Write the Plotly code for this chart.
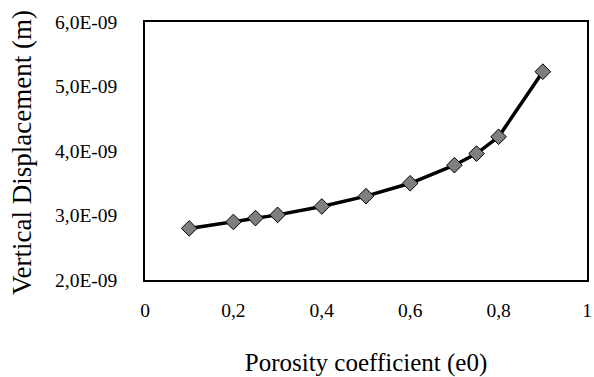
import plotly.graph_objects as go

porosity = [0.1, 0.2, 0.25, 0.3, 0.4, 0.5, 0.6, 0.7, 0.75, 0.8, 0.9]
displacement = [2.80e-9, 2.90e-9, 2.96e-9, 3.01e-9, 3.14e-9, 3.30e-9, 3.50e-9,
                3.78e-9, 3.96e-9, 4.22e-9, 5.23e-9]

x_ticks = [0, 0.2, 0.4, 0.6, 0.8, 1]
x_tick_labels = ["0", "0,2", "0,4", "0,6", "0,8", "1"]
y_ticks = [2e-9, 3e-9, 4e-9, 5e-9, 6e-9]
y_tick_labels = ["2,0E-09", "3,0E-09", "4,0E-09", "5,0E-09", "6,0E-09"]

font_family = "Liberation Serif, Times New Roman, serif"

fig = go.Figure()
fig.add_trace(go.Scatter(
    x=porosity, y=displacement, mode="lines+markers",
    line=dict(color="black", width=3.5),
    marker=dict(symbol="diamond", size=12, color="#7f7f7f",
                line=dict(color="black", width=1)),
    showlegend=False,
))

fig.update_layout(
    width=594, height=377,
    margin=dict(l=145, r=7, t=22, b=97),
    plot_bgcolor="white", paper_bgcolor="white",
    font=dict(family=font_family, size=19.5, color="black"),
    xaxis=dict(
        range=[0, 1], tickvals=x_ticks, ticktext=x_tick_labels,
        showgrid=False, zeroline=False, showline=True, linecolor="black",
        linewidth=1.5, mirror=True, ticks="", ticklabelstandoff=12,
        automargin=False,
        title=dict(text="Porosity coefficient (e0)", font=dict(size=25), standoff=41),
    ),
    yaxis=dict(
        range=[2e-9, 6e-9], tickvals=y_ticks, ticktext=y_tick_labels,
        showgrid=False, zeroline=False, showline=True, linecolor="black",
        linewidth=1.5, mirror=True, ticks="", ticklabelstandoff=22,
        automargin=False,
    ),
    annotations=[dict(
        text="Vertical Displacement (m)", textangle=-90,
        xref="paper", yref="paper", x=0, y=0.5,
        xanchor="center", yanchor="middle", xshift=-123, yshift=-2,
        showarrow=False, font=dict(size=27),
    )],
)

fig.write_html("out.html")
